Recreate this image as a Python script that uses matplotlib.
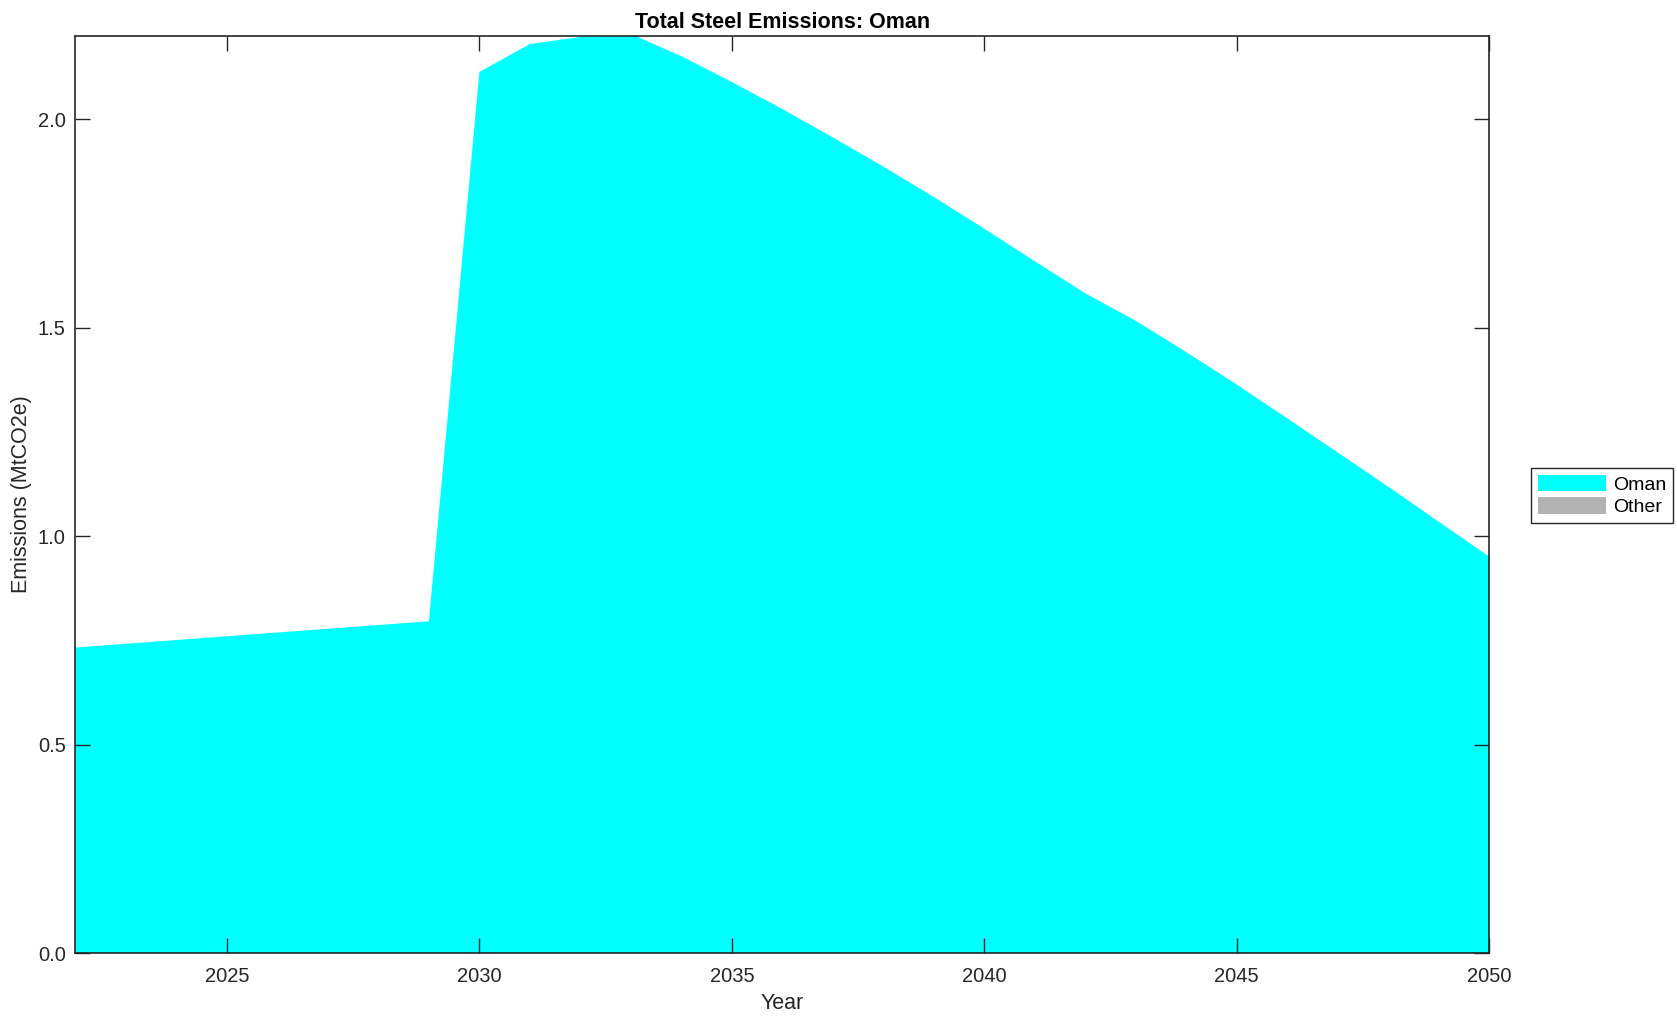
import matplotlib

matplotlib.use("Agg")
import matplotlib.pyplot as plt
from matplotlib.patches import Patch

YEARS = list(range(2022, 2051))
OMAN = [0.733, 0.742, 0.751, 0.760, 0.769, 0.778, 0.787, 0.796,
        2.114, 2.181, 2.198, 2.205, 2.152, 2.090, 2.025, 1.957,
        1.887, 1.814, 1.738, 1.660, 1.583, 1.517, 1.442, 1.364,
        1.283, 1.201, 1.119, 1.035, 0.951]
OTHER = [0.0] * len(YEARS)
SERIES = ["Oman", "Other"]
COLORS = ["#00ffff", "#b3b3b3"]

plt.rcParams["font.family"] = ["Liberation Sans", "DejaVu Sans"]

fig = plt.figure(figsize=(16.77, 10.21), dpi=100)
ax = fig.add_axes([0.045, 0.0666, 0.843, 0.898])
ax.stackplot(YEARS, OMAN, OTHER, colors=COLORS, linewidth=0)

ax.set_xlim(2022, 2050)
ax.set_ylim(0, 2.2)
ax.set_xticks([2025, 2030, 2035, 2040, 2045, 2050])
ax.set_yticks([0, 0.5, 1.0, 1.5, 2.0])
ax.set_yticklabels(["0.0", "0.5", "1.0", "1.5", "2.0"])
ax.tick_params(direction="in", length=11, width=1, top=True, right=True,
               labelsize=14.5, colors="#262626")
ax.tick_params(axis="x", pad=10)
ax.tick_params(axis="y", pad=7)
for s in ax.spines.values():
    s.set_linewidth(1.2)
    s.set_color("#262626")
    s.set_zorder(5)

ax.set_xlabel("Year", fontsize=15.5, color="#262626", labelpad=5)
ax.set_ylabel("Emissions (MtCO2e)", fontsize=15.5, color="#262626", labelpad=4)
ax.set_title("Total Steel Emissions: Oman", fontsize=15.5, fontweight="bold", pad=6)

handles = [Patch(facecolor=c, edgecolor="none", label=n) for n, c in zip(SERIES, COLORS)]
leg = fig.legend(handles=handles, loc="center left", bbox_to_anchor=(0.907, 0.5147),
                 bbox_transform=fig.transFigure, fontsize=14, frameon=True,
                 fancybox=False, edgecolor="#262626", framealpha=1,
                 handlelength=3.5, handleheight=0.9, handletextpad=0.4,
                 labelspacing=0.2, borderpad=0.35)
leg.get_frame().set_linewidth(1.0)

fig.savefig("out.png", dpi=100)
